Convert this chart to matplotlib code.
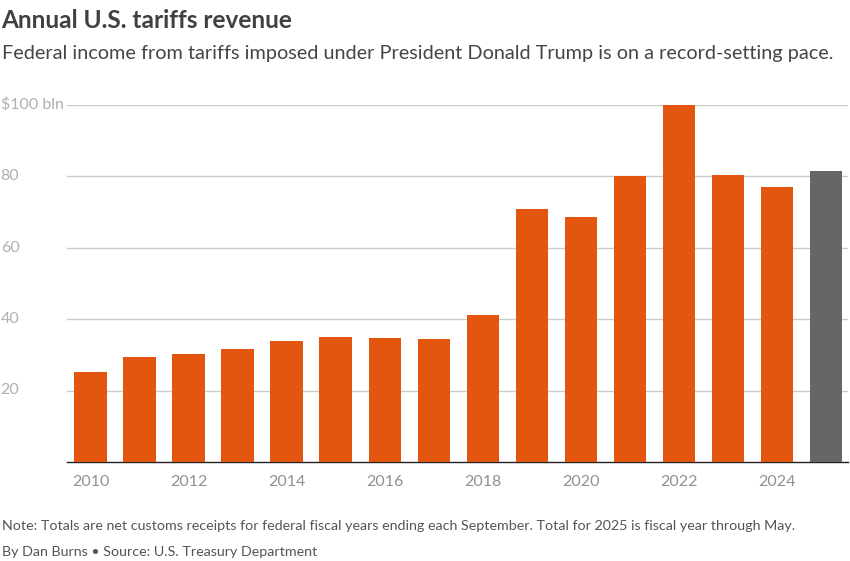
import matplotlib
matplotlib.use("Agg")
import matplotlib.pyplot as plt

years = list(range(2010, 2026))
revenue = [25.1, 29.5, 30.2, 31.7, 33.8, 35.0, 34.8, 34.5, 41.2, 70.8, 68.6, 80.0, 100.0, 80.3, 77.0, 81.5]
bar_colors = ["#E4560F"] * 15 + ["#666666"]
tick_years = [2010, 2012, 2014, 2016, 2018, 2020, 2022, 2024]
y_ticks = [20, 40, 60, 80, 100]
y_labels = ["20", "40", "60", "80", "$100 bln"]

plt.rcParams["font.family"] = ["Lato", "DejaVu Sans"]
W, H = 850, 561
fig = plt.figure(figsize=(W / 100, H / 100), dpi=100, facecolor="white")
left, right, top, bottom = 67, 848, 104.5, 462
ax = fig.add_axes([left / W, 1 - bottom / H, (right - left) / W, (bottom - top) / H])
ax.set_ylim(0, 100)
ax.set_xlim(2009.52, 2025.45)
for s in ["top", "left", "right"]:
    ax.spines[s].set_visible(False)
ax.spines["bottom"].set_color("#222222")
ax.spines["bottom"].set_linewidth(1)
ax.set_axisbelow(True)
ax.yaxis.grid(True, color="#cccccc", linewidth=1)
ax.bar(years, revenue, width=0.66, color=bar_colors, zorder=3)
ax.set_xticks(tick_years)
ax.set_xticklabels(tick_years, fontsize=11.5, color="#909090")
ax.tick_params(axis="x", length=0, pad=9)
ax.set_yticks(y_ticks)
ax.set_yticklabels([])
ax.tick_params(axis="y", length=0)
for v, lab in zip(y_ticks, y_labels):
    ax.annotate(lab, xy=(0, v), xycoords=("figure fraction", "data"), xytext=(0.5, 0),
                textcoords="offset points", fontsize=11.5, color="#b0b0b0", va="center", ha="left",
                bbox=dict(facecolor="white", edgecolor="none", pad=0))
fig.text(1.5 / W, 1 - 21 / H, "Annual U.S. tariffs revenue", fontsize=17.6, fontweight="bold", color="#404040", va="center")
fig.text(1.5 / W, 1 - 54 / H, "Federal income from tariffs imposed under President Donald Trump is on a record-setting pace.",
         fontsize=14.3, color="#454545", va="center")
fig.text(1.5 / W, 1 - 526 / H, "Note: Totals are net customs receipts for federal fiscal years ending each September. Total for 2025 is fiscal year through May.",
         fontsize=10.25, color="#555555", va="center")
fig.text(1.5 / W, 1 - 552 / H, "By Dan Burns \u2022 Source: U.S. Treasury Department", fontsize=10.25, color="#555555", va="center")
fig.savefig("out.png", dpi=100)
